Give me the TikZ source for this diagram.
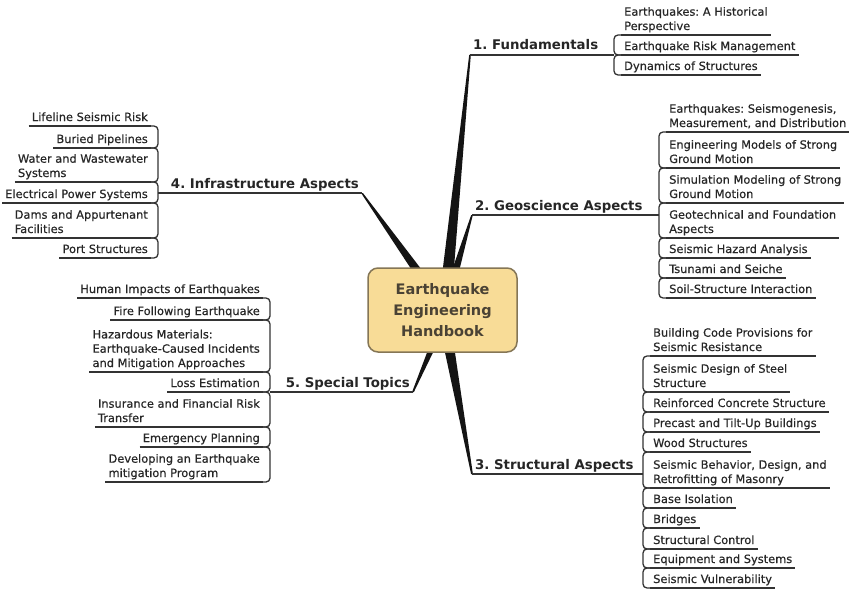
\documentclass[tikz,border=0pt]{standalone}
\usepackage{fontspec}
\setmainfont{DejaVu Sans}
\newfontfamily\itemfam{DejaVu Sans}[FakeBold=0.45]
\usetikzlibrary{calc,backgrounds}
\definecolor{inkline}{HTML}{333333}
\definecolor{inktext}{HTML}{262626}
\definecolor{branchink}{HTML}{141414}
\definecolor{hubfill}{HTML}{F8DC97}
\definecolor{hubedge}{HTML}{857656}
\definecolor{hubtext}{HTML}{4A4234}
\newcommand{\itemfont}{\itemfam\fontsize{11.4}{14.3}\selectfont\frenchspacing}
\newcommand{\topicfont}{\fontsize{13.3}{16}\selectfont\bfseries\frenchspacing}
\newcommand{\hubfont}{\fontsize{14.5}{21}\selectfont\bfseries}
\begin{document}
\begin{tikzpicture}[x=1pt,y=-1pt,
  item/.style={font=\itemfont, text=inktext, align=left, inner xsep=3pt,
    inner ysep=0.5pt, execute at end node=\strut},
  ritem/.style={item, anchor=south west},
  litem/.style={item, anchor=south east},
  topic/.style={font=\topicfont, text=inktext, inner xsep=3pt, inner ysep=0pt,
    execute at end node=\strut},
  uline/.style={draw=inkline, line width=1.3pt},
  tline/.style={draw=inkline, line width=1.5pt},
  bracket/.style={draw=inkline, line width=1.3pt, rounded corners=4pt},
  branch/.style={fill=branchink},
  hub/.style={draw=hubedge, line width=1.5pt, fill=hubfill, rounded corners=10pt,
    minimum width=149pt, minimum height=84pt, align=center, font=\hubfont,
    text=hubtext, inner sep=0pt}
]
\useasboundingbox (0,0) rectangle (854,591);

% central topic
\node[hub] (hub) at (442.5,310) {Earthquake\\Engineering\\Handbook};

% main topics
\node[topic, anchor=south west] (t1) at (470,55) {1. Fundamentals};
\node[topic, anchor=south west] (t2) at (472,215) {2. Geoscience Aspects};
\node[topic, anchor=south west] (t3) at (472,474) {3. Structural Aspects};
\node[topic, anchor=south east] (t4) at (362,193) {4. Infrastructure Aspects};
\node[topic, anchor=south east] (t5) at (413,392) {5. Special Topics};

% junctions on the brackets
\coordinate (j1) at (614,55);
\coordinate (j2) at (659,215);
\coordinate (j3) at (643,474);
\coordinate (j4) at (158,193);
\coordinate (j5) at (270,392);

% 1. Fundamentals
\node[ritem] (a1) at (621,35) {Earthquakes: A Historical\\Perspective};
\node[ritem] (a2) at (621,55) {Earthquake Risk Management};
\node[ritem] (a3) at (621,75) {Dynamics of Structures};

% 2. Geoscience Aspects
\node[ritem] (b1) at (666,132) {Earthquakes: Seismogenesis,\\Measurement, and Distribution};
\node[ritem] (b2) at (666,168) {Engineering Models of Strong\\Ground Motion};
\node[ritem] (b3) at (666,203) {Simulation Modeling of Strong\\Ground Motion};
\node[ritem] (b4) at (666,238) {Geotechnical and Foundation\\Aspects};
\node[ritem] (b5) at (666,258) {Seismic Hazard Analysis};
\node[ritem] (b6) at (666,278) {Tsunami and Seiche};
\node[ritem] (b7) at (666,298) {Soil-Structure Interaction};

% 3. Structural Aspects
\node[ritem] (c1) at (650,356) {Building Code Provisions for\\Seismic Resistance};
\node[ritem] (c2) at (650,392) {Seismic Design of Steel\\Structure};
\node[ritem] (c3) at (650,412) {Reinforced Concrete Structure};
\node[ritem] (c4) at (650,432) {Precast and Tilt-Up Buildings};
\node[ritem] (c5) at (650,452) {Wood Structures};
\node[ritem] (c6) at (650,488) {Seismic Behavior, Design, and\\Retrofitting of Masonry};
\node[ritem] (c7) at (650,508) {Base Isolation};
\node[ritem] (c8) at (650,528) {Bridges};
\node[ritem] (c9) at (650,549) {Structural Control};
\node[ritem] (c10) at (650,568) {Equipment and Systems};
\node[ritem] (c11) at (650,588) {Seismic Vulnerability};

% 4. Infrastructure Aspects
\node[litem] (d1) at (151,126) {Lifeline Seismic Risk};
\node[litem] (d2) at (151,148) {Buried Pipelines};
\node[litem] (d3) at (151,182) {Water and Wastewater\\Systems};
\node[litem] (d4) at (151,203) {Electrical Power Systems};
\node[litem] (d5) at (151,238) {Dams and Appurtenant\\Facilities};
\node[litem] (d6) at (151,258) {Port Structures};

% 5. Special Topics
\node[litem] (e1) at (263,298) {Human Impacts of Earthquakes};
\node[litem] (e2) at (263,320) {Fire Following Earthquake};
\node[litem] (e3) at (263,372) {Hazardous Materials:\\Earthquake-Caused Incidents\\and Mitigation Approaches};
\node[litem] (e4) at (263,392) {Loss Estimation};
\node[litem] (e5) at (263,427) {Insurance and Financial Risk\\Transfer};
\node[litem] (e6) at (263,447) {Emergency Planning};
\node[litem] (e7) at (263,482) {Developing an Earthquake\\mitigation Program};

% underlines of the subtopics
\foreach \n in {a1,a2,a3,b1,b2,b3,b4,b5,b6,b7,c1,c2,c3,c4,c5,c6,c7,c8,c9,c10,c11,
                d1,d2,d3,d4,d5,d6,e1,e2,e3,e4,e5,e6,e7}
  \draw[uline] (\n.south west) -- (\n.south east);

% brackets on the right-hand side
\foreach \p/\q in {a1/a2,a2/a3,b1/b2,b2/b3,b3/b4,b4/b5,b5/b6,b6/b7,
                   c1/c2,c2/c3,c3/c4,c4/c5,c5/c6,c6/c7,c7/c8,c8/c9,c9/c10,c10/c11}
  \draw[bracket] (\p.south west) -- ++(-7,0) |- (\q.south west);

% brackets on the left-hand side
\foreach \p/\q in {d1/d2,d2/d3,d3/d4,d4/d5,d5/d6,e1/e2,e2/e3,e3/e4,e4/e5,e5/e6,e6/e7}
  \draw[bracket] (\p.south east) -- ++(7,0) |- (\q.south east);

% underlines of the main topics, running into their brackets
\draw[tline] (t1.south west) -- (j1);
\draw[tline] (t2.south west) -- (j2);
\draw[tline] (t3.south west) -- (j3);
\draw[tline] (j4) -- (t4.south east);
\draw[tline] (j5) -- (t5.south east);

% tapered branches from the central topic
\begin{scope}[on background layer]
  \fill[white] (0,0) rectangle (854,591);
  \fill[branch] ($(t1.south west)+(-0.8,0)$) -- ($(hub.north)+(-1.6,17)$)
    -- ($(hub.north)+(10.2,17)$) -- ($(t1.south west)+(0.8,0)$) -- cycle;
  \fill[branch] ($(t2.south west)+(-0.8,0)$) -- ($(hub.north)+(4.6,17)$)
    -- ($(hub.north)+(13.4,17)$) -- ($(t2.south west)+(0.8,0)$) -- cycle;
  \fill[branch] ($(t4.south east)+(-0.9,0)$) -- ($(hub.north)+(-21.3,17)$)
    -- ($(hub.north)+(-9.7,17)$) -- ($(t4.south east)+(0.9,0)$) -- cycle;
  \fill[branch] ($(t5.south east)+(-0.9,0)$) -- ($(hub.south)+(-9.1,-17)$)
    -- ($(hub.south)+(-1.4,-17)$) -- ($(t5.south east)+(0.9,0)$) -- cycle;
  \fill[branch] ($(t3.south west)+(-0.9,0)$) -- ($(hub.south)+(-1.1,-17)$)
    -- ($(hub.south)+(10,-17)$) -- ($(t3.south west)+(0.9,0)$) -- cycle;
\end{scope}
\end{tikzpicture}
\end{document}
